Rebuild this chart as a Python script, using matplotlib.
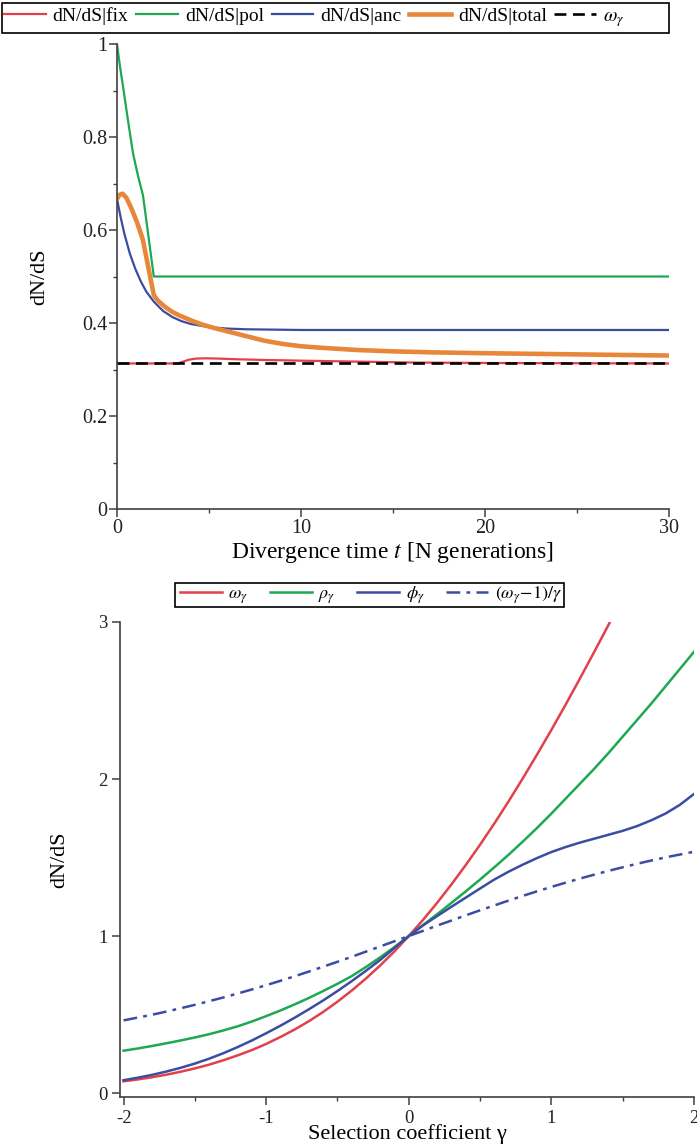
import matplotlib
matplotlib.use('Agg')
import matplotlib.pyplot as plt
import matplotlib.ticker as ticker
from matplotlib.patches import Rectangle

plt.rcParams['font.family'] = ['Liberation Serif', 'DejaVu Serif']
plt.rcParams['mathtext.fontset'] = 'stix'
plt.rcParams['axes.unicode_minus'] = False

# --- top panel: dN/dS against divergence time
t_fix = [0, 3.3, 3.6, 3.9, 4.3, 4.8, 5.5, 6.5, 8, 10, 13, 16, 20, 25, 30]
dnds_fix = [0.313, 0.313, 0.317, 0.321, 0.3235, 0.324, 0.3235, 0.322, 0.3205,
            0.319, 0.317, 0.315, 0.314, 0.3135, 0.313]

t_pol = [0, 0.15, 0.33, 0.6, 0.87, 1.15, 1.41, 2.0, 30]
dnds_pol = [1.0, 0.955, 0.908, 0.835, 0.765, 0.715, 0.675, 0.5, 0.5]

t_anc = [0, 0.2, 0.4, 0.7, 1.0, 1.3, 1.6, 2.0, 2.5, 3.0, 3.5, 4.0, 5.0, 6.0,
         7.0, 8.0, 10, 30]
dnds_anc = [0.667, 0.627, 0.592, 0.549, 0.516, 0.489, 0.467, 0.446, 0.426,
            0.413, 0.404, 0.398, 0.391, 0.388, 0.3865, 0.386, 0.385, 0.385]

t_total = [0, 0.15, 0.3, 0.5, 0.8, 1.1, 1.4, 1.7, 2.0, 2.2, 2.6, 3.0, 3.4, 4.0,
           4.6, 5.3, 6.0, 7.0, 8.0, 9.0, 10, 11, 13, 15, 17, 20, 24, 27, 30]
dnds_total = [0.667, 0.676, 0.678, 0.670, 0.645, 0.615, 0.58, 0.52, 0.46,
              0.449, 0.435, 0.424, 0.416, 0.406, 0.397, 0.389, 0.382, 0.372,
              0.362, 0.355, 0.350, 0.347, 0.342, 0.339, 0.337, 0.335, 0.333,
              0.3315, 0.330]

t_omega = [0, 30]
omega_const = [0.313, 0.313]

# --- bottom panel: dN/dS against selection coefficient
gamma = [-2.0, -1.9, -1.8, -1.7, -1.6, -1.5, -1.4, -1.3, -1.2, -1.1, -1.0,
         -0.9, -0.8, -0.7, -0.6, -0.5, -0.4, -0.3, -0.2, -0.1, 0.0,
         0.1, 0.2, 0.3, 0.4, 0.5, 0.6, 0.7, 0.8, 0.9, 1.0,
         1.1, 1.2, 1.3, 1.4, 1.5, 1.6, 1.7, 1.8, 1.9, 2.0]
omega = [0.075, 0.087, 0.101, 0.117, 0.136, 0.157, 0.181, 0.209, 0.240, 0.274,
         0.313, 0.357, 0.405, 0.458, 0.517, 0.582, 0.653, 0.730, 0.813, 0.903,
         1.0, 1.103, 1.213, 1.330, 1.453, 1.582, 1.717, 1.858, 2.005, 2.157,
         2.313, 2.474, 2.640, 2.809, 2.981, 3.157, 3.336, 3.517, 3.701, 3.887,
         4.075]
rho = [0.27, 0.284, 0.30, 0.317, 0.335, 0.354, 0.375, 0.399, 0.425, 0.456,
       0.49, 0.526, 0.565, 0.606, 0.65, 0.696, 0.745, 0.803, 0.865, 0.93,
       1.0, 1.07, 1.14, 1.212, 1.285, 1.36, 1.438, 1.518, 1.602, 1.689,
       1.78, 1.875, 1.97, 2.065, 2.165, 2.27, 2.375, 2.48, 2.59, 2.70, 2.81]
phi = [0.082, 0.098, 0.116, 0.137, 0.161, 0.188, 0.219, 0.254, 0.293, 0.335,
       0.381, 0.429, 0.480, 0.534, 0.590, 0.650, 0.713, 0.779, 0.848, 0.925,
       1.0, 1.068, 1.128, 1.187, 1.245, 1.303, 1.36, 1.41, 1.455, 1.497,
       1.535, 1.567, 1.595, 1.62, 1.645, 1.67, 1.70, 1.737, 1.78, 1.835, 1.905]
omega_ratio = [0.463, 0.481, 0.499, 0.519, 0.540, 0.562, 0.585, 0.609, 0.634,
               0.660, 0.687, 0.715, 0.744, 0.774, 0.805, 0.836, 0.868, 0.901,
               0.934, 0.967, 1.0, 1.033, 1.067, 1.099, 1.132, 1.164, 1.195,
               1.226, 1.256, 1.285, 1.313, 1.340, 1.366, 1.391, 1.415, 1.438,
               1.460, 1.481, 1.501, 1.519, 1.537]

RED = '#E2404A'
GREEN = '#1DA852'
BLUE = '#3B4DA0'
ORANGE = '#E8873A'
AXC = '#404040'

W, H = 697, 1148
fig = plt.figure(figsize=(W / 100, H / 100), dpi=100)


def style_axes(ax, size):
    for s in ['top', 'right']:
        ax.spines[s].set_visible(False)
    for s in ['left', 'bottom']:
        ax.spines[s].set_color(AXC)
        ax.spines[s].set_linewidth(1.2)
    ax.tick_params(which='major', direction='out', length=5.6, width=1.1,
                   color=AXC, labelsize=size, labelcolor='#222222', pad=2)
    ax.tick_params(which='minor', direction='out', length=3, width=1.0,
                   color=AXC)
    fmt = ticker.FuncFormatter(lambda v, p: f'{v:g}')
    ax.xaxis.set_major_formatter(fmt)
    ax.yaxis.set_major_formatter(fmt)


# top
ax1 = fig.add_axes([117 / W, 1 - 509 / H, 552 / W, 465 / H])
ax1.plot(t_fix, dnds_fix, color=RED, lw=1.6, label='dN/dS|fix')
ax1.plot(t_pol, dnds_pol, color=GREEN, lw=1.6, label='dN/dS|pol')
ax1.plot(t_anc, dnds_anc, color=BLUE, lw=1.6, label='dN/dS|anc')
ax1.plot(t_total, dnds_total, color=ORANGE, lw=3.3, label='dN/dS|total')
ax1.plot(t_omega, omega_const, color='black', lw=1.9, ls=(0, (4.5, 2.5)),
         label=r'$\omega_\gamma$')
ax1.set_xlim(0, 30)
ax1.set_ylim(0, 1)
ax1.xaxis.set_major_locator(ticker.MultipleLocator(10))
ax1.xaxis.set_minor_locator(ticker.MultipleLocator(5))
ax1.yaxis.set_major_locator(ticker.MultipleLocator(0.2))
ax1.yaxis.set_minor_locator(ticker.MultipleLocator(0.1))
style_axes(ax1, 14.5)
ax1.tick_params(axis='x', which='major', pad=1.5)
ax1.tick_params(axis='y', which='major', pad=1.5)
ax1.set_xlabel(r'Divergence time $t$ [N generations]', fontsize=17)
ax1.xaxis.set_label_coords(0.5, -0.066)
ax1.set_ylabel('dN/dS', fontsize=16)
ax1.yaxis.set_label_coords(-0.123, 0.5)

h1, l1 = ax1.get_legend_handles_labels()
fig.legend(h1, l1, loc='center left', bbox_to_anchor=(4 / W, 1 - 18 / H),
           ncol=5, frameon=False, fontsize=14, handlelength=2.15,
           handletextpad=0.35, columnspacing=0.4, borderpad=0,
           borderaxespad=0)
fig.add_artist(Rectangle((2 / W, 1 - 33 / H), 667 / W, 30 / H,
                         transform=fig.transFigure, fill=False,
                         ec='black', lw=1.2))

# bottom
ax2 = fig.add_axes([120 / W, 1 - 1097 / H, 574 / W, 475 / H])
ax2.plot(gamma, omega, color=RED, lw=1.8, label=r'$\omega_\gamma$')
ax2.plot(gamma, rho, color=GREEN, lw=1.8, label=r'$\rho_\gamma$')
ax2.plot(gamma, phi, color=BLUE, lw=1.8, label=r'$\phi_\gamma$')
ax2.plot(gamma, omega_ratio, color=BLUE, lw=1.8, ls=(0, (5.5, 2.5, 1.5, 2.5)),
         label=r'$(\omega_\gamma\!-\!1)/\gamma$')
ax2.set_xlim(-2.025, 2)
ax2.set_ylim(-0.025, 3)
ax2.xaxis.set_major_locator(ticker.MultipleLocator(1))
ax2.xaxis.set_minor_locator(ticker.MultipleLocator(0.5))
ax2.yaxis.set_major_locator(ticker.MultipleLocator(1))
style_axes(ax2, 13.5)
ax2.tick_params(axis='x', which='major', pad=3.5)
ax2.tick_params(axis='y', which='major', pad=3.5)
ax2.set_xlabel('Selection coefficient γ', fontsize=16)
ax2.xaxis.set_label_coords(0.5, -0.058)
ax2.set_ylabel('dN/dS', fontsize=16)
ax2.yaxis.set_label_coords(-0.089, 0.5)

h2, l2 = ax2.get_legend_handles_labels()
fig.legend(h2, l2, loc='center left', bbox_to_anchor=(180 / W, 1 - 595 / H),
           ncol=4, frameon=False, fontsize=13, handlelength=2.33,
           handletextpad=0.35, columnspacing=1.2, borderpad=0,
           borderaxespad=0)
fig.add_artist(Rectangle((175 / W, 1 - 607 / H), 389 / W, 24 / H,
                         transform=fig.transFigure, fill=False,
                         ec='black', lw=1.2))

fig.savefig('out.png', dpi=100)
